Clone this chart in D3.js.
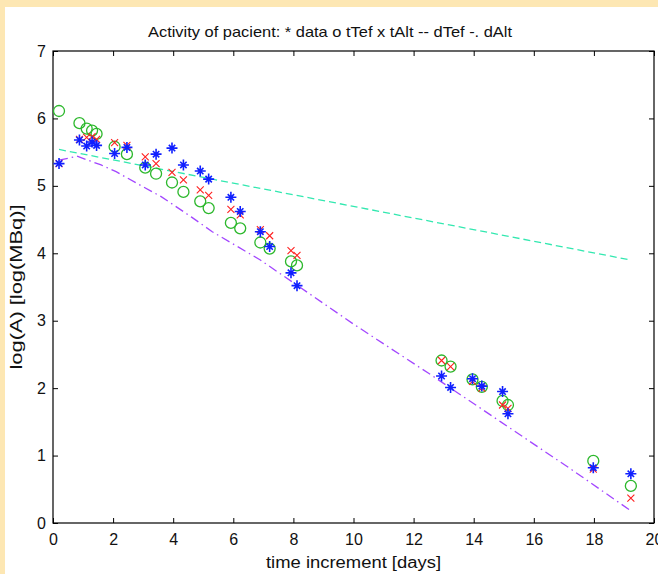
<!DOCTYPE html>
<html>
<head>
<meta charset="utf-8">
<script src="https://cdn.jsdelivr.net/npm/d3@7"></script>
<style>
  body { margin: 0; background: #fff; }
  text { font-family: "Liberation Sans", Arial, sans-serif; fill: #111; }
</style>
</head>
<body>
<svg id="chart" width="658" height="574"></svg>
<script>
// measured times [days]
var times = [0.2, 0.88, 1.12, 1.3, 1.45, 2.05, 2.46, 3.07, 3.43, 3.96, 4.34, 4.9, 5.18, 5.92, 6.23,
             6.9, 7.21, 7.92, 8.12, 12.93, 13.23, 13.96, 14.27, 14.96, 15.14, 17.98, 19.23];
// * data
var dataVals = [5.33, 5.68, 5.59, 5.65, 5.6, 5.48, 5.57, 5.31, 5.47, 5.56, 5.31, 5.22, 5.1, 4.83, 4.62,
                4.32, 4.1, 3.71, 3.52, 2.18, 2.01, 2.14, 2.03, 1.95, 1.62, 0.82, 0.73];
// o tTef
var tTefVals = [6.11, 5.93, 5.85, 5.82, 5.77, 5.58, 5.47, 5.27, 5.18, 5.05, 4.91, 4.77, 4.67, 4.45, 4.37,
                4.16, 4.07, 3.88, 3.82, 2.41, 2.32, 2.13, 2.02, 1.81, 1.75, 0.92, 0.55];
// x tAlt
var tAltVals = [5.33, 5.69, 5.72, 5.73, 5.69, 5.64, 5.6, 5.43, 5.33, 5.2, 5.09, 4.94, 4.86, 4.65, 4.57,
                4.35, 4.26, 4.04, 3.97, 2.41, 2.32, 2.1, 2.0, 1.75, 1.7, 0.8, 0.37];
// -- dTef
var dTefX = [0.2, 19.23];
var dTefY = [5.54, 3.9];
// -. dAlt
var dAltX = [0.2, 0.8, 1.6, 2.1, 2.9, 3.6, 4.6, 5.3, 6.1, 6.9, 8.5, 10, 12.5, 14.9, 17.2, 19.2];
var dAltY = [5.38, 5.44, 5.31, 5.21, 5.01, 4.84, 4.54, 4.32, 4.11, 3.9, 3.41, 2.95, 2.22, 1.5, 0.81, 0.19];

var xTicks = [0, 2, 4, 6, 8, 10, 12, 14, 16, 18, 20];
var yTicks = [0, 1, 2, 3, 4, 5, 6, 7];

var svg = d3.select("#chart");

//yellow frame of the figure window
svg.append("rect").attr("x", 0).attr("y", 0).attr("width", 658).attr("height", 574).attr("fill", "#fde7b3");
svg.append("rect").attr("x", 5).attr("y", 7).attr("width", 653).attr("height", 567).attr("fill", "#fff");

var pLeft = 53, pRight = 654, pTop = 51, pBottom = 523;
var x = d3.scaleLinear().domain([0, 20]).range([pLeft, pRight]);
var y = d3.scaleLinear().domain([0, 7]).range([pBottom, pTop]);

//axes with inward ticks
svg.append("g").attr("transform", "translate(0," + pBottom + ")")
    .call(d3.axisBottom(x).tickValues(xTicks).tickFormat(d3.format("d")).tickSizeInner(-5).tickSizeOuter(0).tickPadding(11))
    .call(function(g) { g.select(".domain").remove(); g.selectAll("text").attr("font-size", 16); });
svg.append("g").attr("transform", "translate(0," + pTop + ")")
    .call(d3.axisTop(x).tickValues(xTicks).tickSizeInner(-5).tickSizeOuter(0).tickFormat(""))
    .call(function(g) { g.select(".domain").remove(); });
svg.append("g").attr("transform", "translate(" + pLeft + ",0)")
    .call(d3.axisLeft(y).tickValues(yTicks).tickFormat(d3.format("d")).tickSizeInner(-5).tickSizeOuter(0).tickPadding(7))
    .call(function(g) { g.select(".domain").remove(); g.selectAll("text").attr("font-size", 16); });
svg.append("g").attr("transform", "translate(" + pRight + ",0)")
    .call(d3.axisRight(y).tickValues(yTicks).tickSizeInner(-5).tickSizeOuter(0).tickFormat(""))
    .call(function(g) { g.select(".domain").remove(); });

svg.append("rect").attr("x", pLeft).attr("y", pTop).attr("width", pRight - pLeft).attr("height", pBottom - pTop)
    .attr("fill", "none").attr("stroke", "#000").attr("stroke-width", 1.2);

var line = d3.line().x(function(d) { return x(d[0]); }).y(function(d) { return y(d[1]); });

//fitted curves
svg.append("path").datum(d3.zip(dTefX, dTefY)).attr("d", line)
    .attr("fill", "none").attr("stroke", "#33e8b0").attr("stroke-width", 1.3).attr("stroke-dasharray", "7,4");
svg.append("path").datum(d3.zip(dAltX, dAltY)).attr("d", line)
    .attr("fill", "none").attr("stroke", "#a347ff").attr("stroke-width", 1.3).attr("stroke-dasharray", "9,4,1.5,4");

//markers
svg.append("g").selectAll("circle").data(d3.zip(times, tTefVals)).enter().append("circle")
    .attr("cx", function(d) { return x(d[0]); }).attr("cy", function(d) { return y(d[1]); })
    .attr("r", 5.5).attr("fill", "none").attr("stroke", "#2cb82c").attr("stroke-width", 1.3);

svg.append("g").selectAll("path").data(d3.zip(times, tAltVals)).enter().append("path")
    .attr("d", function(d) {
      var cx = x(d[0]), cy = y(d[1]), s = 3.5;
      return "M" + (cx - s) + "," + (cy - s) + "L" + (cx + s) + "," + (cy + s) +
             "M" + (cx - s) + "," + (cy + s) + "L" + (cx + s) + "," + (cy - s);
    })
    .attr("stroke", "#ff2020").attr("stroke-width", 1.1).attr("fill", "none");

svg.append("g").selectAll("path").data(d3.zip(times, dataVals)).enter().append("path")
    .attr("d", function(d) {
      var cx = x(d[0]), cy = y(d[1]), s = 5.5, t = 3.2;
      return "M" + (cx - s) + "," + cy + "L" + (cx + s) + "," + cy +
             "M" + cx + "," + (cy - s) + "L" + cx + "," + (cy + s) +
             "M" + (cx - t) + "," + (cy - t) + "L" + (cx + t) + "," + (cy + t) +
             "M" + (cx - t) + "," + (cy + t) + "L" + (cx + t) + "," + (cy - t);
    })
    .attr("stroke", "#1020ff").attr("stroke-width", 1.6).attr("fill", "none");

//labels
svg.append("text").attr("x", 330).attr("y", 37).attr("text-anchor", "middle")
    .attr("font-size", 15).attr("textLength", 364).attr("lengthAdjust", "spacingAndGlyphs")
    .text("Activity of pacient: * data o tTef x tAlt -- dTef -. dAlt");
svg.append("text").attr("x", (pLeft + pRight) / 2).attr("y", 568).attr("text-anchor", "middle")
    .attr("font-size", 16).attr("textLength", 175).attr("lengthAdjust", "spacingAndGlyphs")
    .text("time increment [days]");
svg.append("text").attr("transform", "translate(22," + (pTop + pBottom) / 2 + ") rotate(-90)")
    .attr("text-anchor", "middle").attr("font-size", 16).attr("textLength", 165).attr("lengthAdjust", "spacingAndGlyphs")
    .text("log(A) [log(MBq)]");
</script>
</body>
</html>
